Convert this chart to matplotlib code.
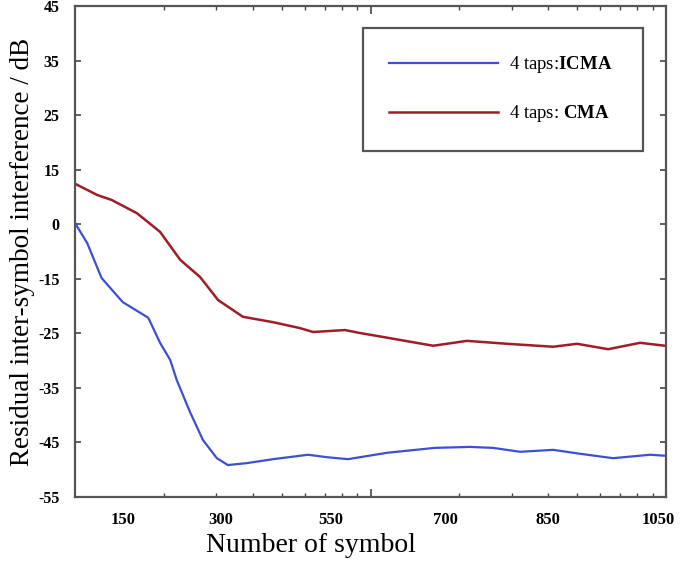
import numpy as np
import matplotlib
matplotlib.use("Agg")
import matplotlib.pyplot as plt
from matplotlib.ticker import FixedLocator, NullFormatter

plt.rcParams['font.family'] = ['Liberation Serif', 'DejaVu Serif']
plt.rcParams['mathtext.fontset'] = 'custom'
plt.rcParams['mathtext.rm'] = 'Liberation Serif'
plt.rcParams['mathtext.bf'] = 'Liberation Serif:bold'

# symbol axis (log scale)
icma_x = [10, 11.0, 12.3, 14.5, 17.7, 19.4, 21.0, 22.1, 24.5, 27.1, 30.2, 32.9,
          38.2, 46.8, 61.5, 71.3, 83.9, 113.7, 165, 217, 260, 321, 415, 512,
          662, 883, 993]
icma_y = [0.8, -3.3, -10.4, -15.3, -18.5, -23.6, -27.1, -31.2, -37.7, -43.4,
          -47.1, -48.5, -48.1, -47.3, -46.4, -46.9, -47.3, -46.0, -45.0, -44.8,
          -45.0, -45.8, -45.4, -46.2, -47.1, -46.4, -46.6]

cma_x = [10, 11.9, 13.3, 16.2, 19.4, 22.7, 26.5, 30.5, 37.0, 46.8, 57.7, 63.9,
         82, 92, 110, 163, 212, 290, 415, 500, 637, 817, 993]
cma_y = [8.8, 6.5, 5.5, 2.8, -1.0, -6.7, -10.2, -14.9, -18.3, -19.4, -20.6,
         -21.4, -21.0, -21.6, -22.4, -24.2, -23.2, -23.8, -24.4, -23.8, -24.9,
         -23.6, -24.2]

ytick_labels = ['-55', '-45', '-35', '-25', '-15', '0', '15', '25', '35', '45']
xtick_labels = ['150', '300', '550', '700', '850', '1050']
xtick_frac = [0.081, 0.247, 0.433, 0.626, 0.80, 0.986]

blue = '#3c4fd6'
red = '#a01c26'

fig = plt.figure(figsize=(6.85, 5.62), dpi=100)
ax = fig.add_axes([0.1095, 0.1157, 0.8628, 0.8736])

ax.plot(icma_x, icma_y, color=blue, lw=1.6, label=r'4 taps:$\mathbf{ICMA}$')
ax.plot(cma_x, cma_y, color=red, lw=1.8, label=r'4 taps: $\mathbf{CMA}$')

ax.set_xscale('log')
ax.set_xlim(10, 1000)
ax.set_ylim(-55, 45)

ax.xaxis.set_major_locator(FixedLocator([100]))
ax.xaxis.set_minor_locator(FixedLocator([20, 30, 40, 50, 60, 70, 80, 90,
                                         200, 300, 400, 500, 600, 700, 800, 900]))
ax.xaxis.set_major_formatter(NullFormatter())
ax.xaxis.set_minor_formatter(NullFormatter())
ax.tick_params(axis='x', which='major', direction='in', length=6, width=1.2,
               top=True, color='#444444')
ax.tick_params(axis='x', which='minor', direction='in', length=3, width=1,
               top=True, color='#444444')

ax.set_yticks(np.linspace(-55, 45, 10))
ax.set_yticklabels(ytick_labels, fontweight='bold', fontsize=11.5)
ax.tick_params(axis='y', direction='in', length=4, width=1.2, right=True,
               pad=11, color='#444444')

for frac, lab in zip(xtick_frac, xtick_labels):
    ax.text(frac, -0.047, lab, transform=ax.transAxes, ha='center', va='center',
            fontsize=12, fontweight='bold')

for sp in ax.spines.values():
    sp.set_color('#555555')
    sp.set_linewidth(1.6)

ax.text(0.40, -0.098, 'Number of symbol', transform=ax.transAxes,
        ha='center', va='center', fontsize=20)
ax.set_ylabel('Residual inter-symbol interference / dB', fontsize=19.5, va='center')
ax.yaxis.set_label_coords(-0.089, 0.5)

leg = ax.legend(loc='upper left', bbox_to_anchor=(0.487, 0.733, 0.474, 0.222),
                mode='expand', borderaxespad=0, fontsize=13.5, handlelength=5.8,
                handletextpad=0.6, labelspacing=1.5, borderpad=1.4,
                fancybox=False, framealpha=1)
leg.get_frame().set_edgecolor('#555555')
leg.get_frame().set_linewidth(1.6)

plt.savefig('out.png', dpi=100)
